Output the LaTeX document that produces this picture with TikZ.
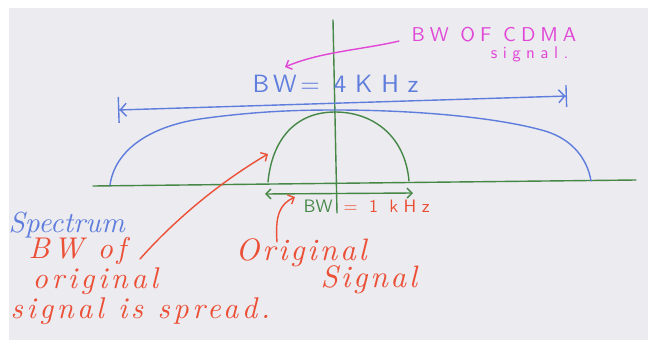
\documentclass[tikz,border=0pt]{standalone}
\usepackage{fontspec}
\usetikzlibrary{arrows.meta}

\definecolor{penblue}{RGB}{95,125,220}
\definecolor{pengreen}{RGB}{70,135,70}
\definecolor{penred}{RGB}{235,80,55}
\definecolor{penpink}{RGB}{225,70,215}
\definecolor{board}{RGB}{235,235,240}

\newfontfamily\printsf{lmsans10-regular.otf}
\newfontfamily\cursivesf{lmroman10-italic.otf}
\newcommand\printfont[3]{\printsf\fontsize{#1}{#2}\selectfont\addfontfeatures{LetterSpace=#3}\lineskiplimit=-100pt}
\newcommand\cursivefont[3]{\cursivesf\fontsize{#1}{#2}\selectfont\addfontfeatures{LetterSpace=#3}\lineskiplimit=-100pt}

\begin{document}
\begin{tikzpicture}[x=1pt, y=-1pt, line width=1.4pt, line cap=round,
  >={Straight Barb[length=5pt,width=10pt]},
  note/.style={inner sep=0pt}]
  \fill[white] (0,0) rectangle (648,340);
  \fill[board] (9,8) rectangle (648,340);
  \useasboundingbox (0,0) rectangle (648,340);
  % ejes
  \coordinate (xL) at (93,186);
  \coordinate (xR) at (636,180);
  \coordinate (yT) at (333,20);
  \coordinate (yB) at (337,213);
  \draw[pengreen] (xL) -- (xR);
  \draw[pengreen] (yT) -- (yB);
  % espectro ensanchado
  \draw[penblue] (110,185) .. controls (115,150) and (150,125) .. (207,118)
    .. controls (260,111) and (300,110) .. (335,110)
    .. controls (420,110) and (500,118) .. (545,131)
    .. controls (575,140) and (588,162) .. (591,181);
  % senal original
  \draw[pengreen] (268,182) .. controls (272,140) and (295,112) .. (335,112)
    .. controls (372,112) and (405,135) .. (409,181);
  % anchos de banda
  \coordinate (bwL) at (118,110);
  \coordinate (bwR) at (567,96);
  \draw[penblue, {Bar[width=26pt]Straight Barb[length=6pt,width=13pt]}-{Straight Barb[length=6pt,width=13pt]Bar[width=22pt]}] (bwL) -- (bwR);
  \coordinate (obL) at (265,194);
  \coordinate (obR) at (413,193);
  \draw[pengreen, <->] (obL) -- (obR);
  % textos
  \node[note, penblue, anchor=base west, font=\printfont{25}{28}{15}] (bw) at (252,92)
    {BW=\hspace{14pt}{\addfontfeatures{LetterSpace=35}4KHz}};
  \node[note, penpink, anchor=north east, align=right, font=\printfont{20}{17}{25}] (cdma) at (577,26)
    {BW OF CDMA\\{\fontsize{17}{17}\selectfont\addfontfeatures{LetterSpace=32}signal.}\hspace*{8pt}};
  \node[note, pengreen, anchor=base west, font=\printfont{18}{20}{0}] (obw) at (303,212) {BW};
  \node[note, penred, anchor=base west, font=\printfont{18}{20}{30}] (okhz) at (343,212) {= 1 kHz};
  \node[note, penblue, anchor=base west, font=\cursivefont{29}{30}{0}] (spec) at (8,232) {Spectrum};
  \node[note, penred, anchor=north west, align=left, font=\cursivefont{30}{30}{12}] (spread) at (10,237)
    {\hspace*{18pt}BW of\\\hspace*{22pt}original\\signal is spread.};
  \node[note, penred, anchor=north west, align=left, font=\cursivefont{31}{27}{9}] (orig) at (235,238)
    {Original\\\hspace*{85pt}Signal};
  % flechas
  \coordinate (cdmaTip) at (285,67);
  \coordinate (spreadTip) at (268,154);
  \coordinate (origTip) at (295,197);
  \draw[penpink, ->] ([shift={(-12,-3)}]cdma.west) .. controls (360,50) and (320,52) .. (cdmaTip);
  \draw[penred, ->] ([shift={(130,22)}]spread.north west) .. controls (170,225) and (215,185) .. (spreadTip);
  \draw[penred, ->] ([shift={(42,4)}]orig.north west) .. controls (275,215) and (280,204) .. (origTip);
\end{tikzpicture}
\end{document}
